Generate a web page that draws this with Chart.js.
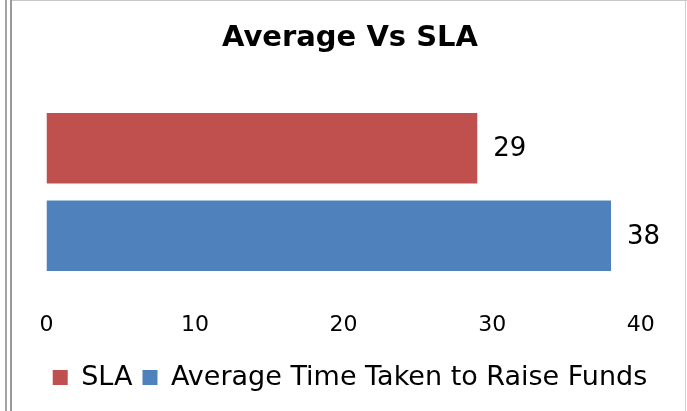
<!DOCTYPE html>
<html>
<head>
<meta charset="utf-8">
<script src="https://cdn.jsdelivr.net/npm/chart.js@4"></script>
<style>
  html, body { margin: 0; padding: 0; background: #fff; }
  #wrap { position: relative; width: 687px; height: 411px; overflow: hidden; }
  canvas { position: absolute; left: 0; top: 0; }
  .ln { position: absolute; }
</style>
</head>
<body>
<div id="wrap">
  <canvas id="c" width="687" height="411"></canvas>
  <div class="ln" style="left:5px;top:0;width:2px;height:411px;background:#a3a3a3"></div>
  <div class="ln" style="left:10px;top:0;width:2px;height:411px;background:#999"></div>
  <div class="ln" style="left:12px;top:0;width:675px;height:1px;background:#c8c8c8"></div>
  <div class="ln" style="left:685px;top:0;width:1px;height:411px;background:#cfcfcf"></div>
</div>
<script>
const titleText = "Average Vs SLA";
const categories = [""];
const seriesNames = ["SLA", "Average Time Taken to Raise Funds"];
const slaValues = [29];
const averageValues = [38];
const seriesColors = ["#C0504D", "#4F81BD"];
const xTicks = [0, 10, 20, 30, 40];

const FONT = "'DejaVu Sans', Verdana, sans-serif";

const valueLabels = {
  id: 'valueLabels',
  afterDatasetsDraw(chart) {
    const ctx = chart.ctx;
    ctx.save();
    ctx.font = "26px " + FONT;
    ctx.fillStyle = "#000";
    ctx.textAlign = "left";
    ctx.textBaseline = "middle";
    chart.data.datasets.forEach((ds, i) => {
      const meta = chart.getDatasetMeta(i);
      meta.data.forEach((bar, j) => {
        ctx.fillText(String(ds.data[j]), bar.x + 16, bar.y + 1);
      });
    });
    ctx.restore();
  }
};

new Chart(document.getElementById('c'), {
  type: 'bar',
  data: {
    labels: categories,
    datasets: [
      { label: seriesNames[0], data: slaValues, backgroundColor: seriesColors[0], borderWidth: 0 },
      { label: seriesNames[1], data: averageValues, backgroundColor: seriesColors[1], borderWidth: 0 }
    ]
  },
  options: {
    indexAxis: 'y',
    responsive: false,
    animation: false,
    devicePixelRatio: 1,
    datasets: { bar: { categoryPercentage: 1.0, barPercentage: 0.807 } },
    layout: { padding: { left: 13, right: 0, top: 0, bottom: 10 } },
    scales: {
      x: {
        min: xTicks[0],
        max: xTicks[xTicks.length - 1],
        afterBuildTicks(scale) { scale.ticks = xTicks.map(v => ({ value: v })); },
        afterFit(scale) { scale.height = 74.5; },
        grid: { display: false, drawTicks: false },
        border: { display: false },
        ticks: { color: '#000', padding: 32.3, font: { family: FONT, size: 22 } }
      },
      y: {
        display: true,
        position: 'left',
        afterFit(scale) { scale.width = 33.5; },
        grid: { display: false, drawTicks: false },
        border: { display: false },
        ticks: { display: false }
      },
      yRight: {
        type: 'category',
        axis: 'y',
        display: true,
        position: 'right',
        afterFit(scale) { scale.width = 42; },
        grid: { display: false, drawTicks: false },
        border: { display: false },
        ticks: { display: false }
      }
    },
    plugins: {
      title: {
        display: true,
        text: titleText,
        color: '#000',
        font: { family: FONT, size: 29, weight: 'bold' },
        padding: { top: 20.6, bottom: 49.1 }
      },
      legend: {
        display: true,
        position: 'bottom',
        labels: {
          color: '#000',
          boxWidth: 15,
          boxHeight: 15,
          padding: 10,
          font: { family: FONT, size: 27 }
        }
      },
      tooltip: { enabled: false }
    }
  },
  plugins: [valueLabels]
});
</script>
</body>
</html>
